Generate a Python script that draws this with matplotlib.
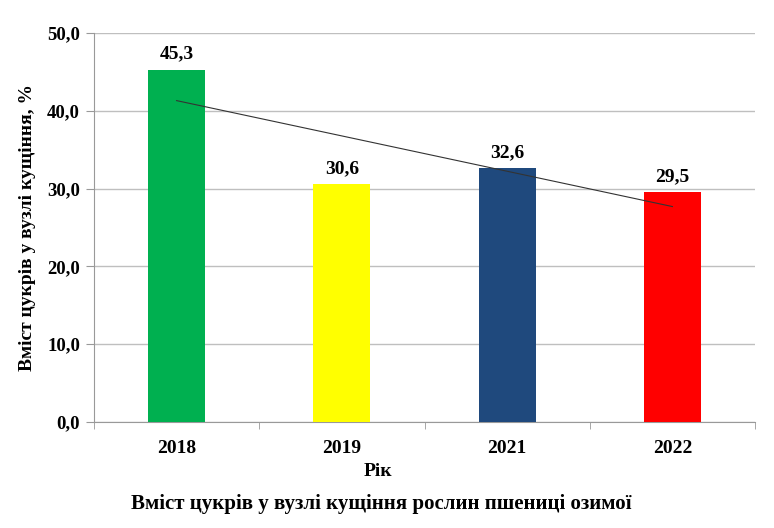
import matplotlib
matplotlib.use("Agg")
import matplotlib.pyplot as plt
import numpy as np

years = ["2018", "2019", "2021", "2022"]
sugar = [45.3, 30.6, 32.6, 29.5]
bar_colors = ["#00B050", "#FFFF00", "#1F497D", "#FF0000"]

plt.rcParams["font.family"] = ["Liberation Serif", "DejaVu Serif"]
plt.rcParams["font.weight"] = "bold"

fig = plt.figure(figsize=(7.74, 5.28), dpi=100)
ax = fig.add_axes([0.1214, 0.2008, 0.8541, 0.7367])

x = np.arange(len(years))
ax.bar(x, sugar, width=0.345, color=bar_colors, zorder=3)

for xi, v in zip(x, sugar):
    ax.annotate(f"{v:.1f}".replace(".", ","), (xi, v), xytext=(0, 5),
                textcoords="offset points", ha="center", va="bottom",
                fontsize=14, fontweight="bold")

# linear trend
k, b = np.polyfit(x + 1, sugar, 1)
ax.plot(x, k * (x + 1) + b, color="#333333", linewidth=0.8, zorder=4)

ax.set_xlim(-0.5, len(years) - 0.5)
ax.set_ylim(0, 50)
ax.set_yticks(np.arange(0, 51, 10))
ax.set_yticklabels([f"{t:.1f}".replace(".", ",") for t in np.arange(0, 51, 10)],
                   fontsize=13.5, fontweight="bold")
ax.set_xticks(x)
ax.set_xticklabels(years, fontsize=14, fontweight="bold")
ax.set_xticks(np.arange(-0.5, len(years)), minor=True)
ax.tick_params(axis="x", which="major", length=0, pad=13)
ax.tick_params(axis="x", which="minor", length=5, color="#999999")
ax.tick_params(axis="y", length=6, color="#999999", pad=4)

ax.yaxis.grid(True, color="#BFBFBF", linewidth=1, zorder=0)
for side in ["top", "right"]:
    ax.spines[side].set_visible(False)
for side in ["left", "bottom"]:
    ax.spines[side].set_color("#999999")

ax.set_ylabel("Вміст цукрів у вузлі кущіння, %", fontsize=14, fontweight="bold")
ax.yaxis.set_label_coords(-0.087, 0.5)
ax.set_xlabel("Рік", fontsize=14, fontweight="bold")
ax.xaxis.set_label_coords(0.43, -0.105)

fig.text(0.492, 0.045, "Вміст цукрів у вузлі кущіння рослин пшениці озимої",
         ha="center", va="center", fontsize=15, fontweight="bold")

fig.savefig("out.png", dpi=100)
